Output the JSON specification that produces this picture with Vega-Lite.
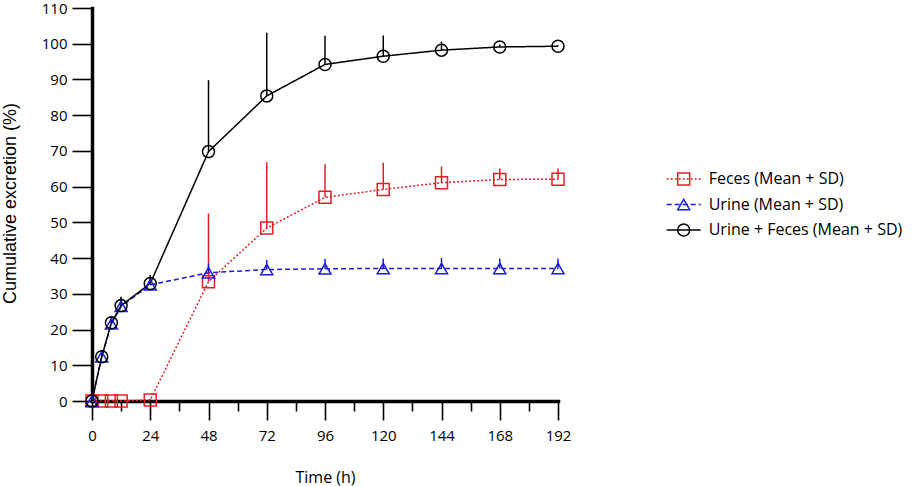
{
  "$schema": "https://vega.github.io/schema/vega-lite/v6.json",
  "width": 466,
  "height": 393,
  "autosize": {"type": "none"},
  "padding": {"left": 92, "top": 8, "right": 355, "bottom": 85},
  "background": "white",
  "config": {
    "view": {"stroke": null},
    "font": "Open Sans",
    "axis": {
      "grid": false,
      "domainColor": "black",
      "domainWidth": 3.5,
      "domainCap": "square",
      "tickColor": "black",
      "tickWidth": 1.6,
      "labelColor": "black",
      "labelFont": "Open Sans",
      "labelFontSize": 15,
      "titleColor": "black",
      "titleFontWeight": "normal"
    }
  },
  "data": {
    "values": [
      {"series": "Feces (Mean + SD)", "time": 0, "mean": 0, "upper": 0},
      {"series": "Feces (Mean + SD)", "time": 4, "mean": 0, "upper": 0},
      {"series": "Feces (Mean + SD)", "time": 8, "mean": 0, "upper": 0},
      {"series": "Feces (Mean + SD)", "time": 12, "mean": 0, "upper": 0},
      {"series": "Feces (Mean + SD)", "time": 24, "mean": 0.3, "upper": 0.6},
      {"series": "Feces (Mean + SD)", "time": 48, "mean": 33.4, "upper": 52.5},
      {"series": "Feces (Mean + SD)", "time": 72, "mean": 48.4, "upper": 66.8},
      {"series": "Feces (Mean + SD)", "time": 96, "mean": 57.0, "upper": 66.3},
      {"series": "Feces (Mean + SD)", "time": 120, "mean": 59.2, "upper": 66.7},
      {"series": "Feces (Mean + SD)", "time": 144, "mean": 61.1, "upper": 65.6},
      {"series": "Feces (Mean + SD)", "time": 168, "mean": 62.0, "upper": 65.1},
      {"series": "Feces (Mean + SD)", "time": 192, "mean": 62.1, "upper": 65.1},
      {"series": "Urine (Mean + SD)", "time": 0, "mean": 0, "upper": 0},
      {"series": "Urine (Mean + SD)", "time": 4, "mean": 12.4, "upper": 14.0},
      {"series": "Urine (Mean + SD)", "time": 8, "mean": 21.6, "upper": 23.5},
      {"series": "Urine (Mean + SD)", "time": 12, "mean": 26.5, "upper": 29.0},
      {"series": "Urine (Mean + SD)", "time": 24, "mean": 32.5, "upper": 34.8},
      {"series": "Urine (Mean + SD)", "time": 48, "mean": 35.9, "upper": 38.5},
      {"series": "Urine (Mean + SD)", "time": 72, "mean": 36.8, "upper": 39.5},
      {"series": "Urine (Mean + SD)", "time": 96, "mean": 37.0, "upper": 39.8},
      {"series": "Urine (Mean + SD)", "time": 120, "mean": 37.1, "upper": 39.9},
      {"series": "Urine (Mean + SD)", "time": 144, "mean": 37.1, "upper": 40.0},
      {"series": "Urine (Mean + SD)", "time": 168, "mean": 37.1, "upper": 39.9},
      {"series": "Urine (Mean + SD)", "time": 192, "mean": 37.1, "upper": 39.9},
      {"series": "Urine + Feces (Mean + SD)", "time": 0, "mean": 0, "upper": 0},
      {"series": "Urine + Feces (Mean + SD)", "time": 4, "mean": 12.4, "upper": 14.3},
      {"series": "Urine + Feces (Mean + SD)", "time": 8, "mean": 21.9, "upper": 23.8},
      {"series": "Urine + Feces (Mean + SD)", "time": 12, "mean": 26.7, "upper": 29.2},
      {"series": "Urine + Feces (Mean + SD)", "time": 24, "mean": 32.9, "upper": 35.3},
      {"series": "Urine + Feces (Mean + SD)", "time": 48, "mean": 69.8, "upper": 89.8},
      {"series": "Urine + Feces (Mean + SD)", "time": 72, "mean": 85.4, "upper": 103.1},
      {"series": "Urine + Feces (Mean + SD)", "time": 96, "mean": 94.2, "upper": 102.2},
      {"series": "Urine + Feces (Mean + SD)", "time": 120, "mean": 96.5, "upper": 102.3},
      {"series": "Urine + Feces (Mean + SD)", "time": 144, "mean": 98.2, "upper": 100.6},
      {"series": "Urine + Feces (Mean + SD)", "time": 168, "mean": 99.1, "upper": 99.8},
      {"series": "Urine + Feces (Mean + SD)", "time": 192, "mean": 99.3, "upper": 99.6}
    ]
  },
  "encoding": {
    "x": {
      "field": "time",
      "type": "quantitative",
      "scale": {"domain": [0, 192], "nice": false, "zero": false},
      "axis": {
        "values": [0, 12, 24, 36, 48, 60, 72, 84, 96, 108, 120, 132, 144, 156, 168, 180, 192],
        "labelExpr": "datum.value % 24 === 0 ? datum.label : ''",
        "labelFlush": false,
        "labelOverlap": false,
        "labelPadding": 8,
        "tickSize": {"condition": {"test": "datum.value % 24 === 0", "value": 19}, "value": 10},
        "title": "Time (h)",
        "titleFont": "Open Sans",
        "titleFontSize": 16,
        "titleY": 81,
        "titleBaseline": "alphabetic"
      }
    },
    "y": {
      "field": "mean",
      "type": "quantitative",
      "scale": {"domain": [0, 110], "nice": false},
      "axis": {
        "values": [0, 10, 20, 30, 40, 50, 60, 70, 80, 90, 100, 110],
        "tickSize": 20,
        "labelPadding": 5,
        "title": "Cumulative excretion (%)",
        "titleFont": "Liberation Sans",
        "titleFontSize": 18,
        "titleAngle": -90,
        "titleX": -82,
        "titleY": 195,
        "titleAlign": "center",
        "titleBaseline": "middle"
      }
    }
  },
  "layer": [
    {
      "mark": {"type": "line", "strokeWidth": 1.5},
      "encoding": {
        "color": {
          "field": "series",
          "type": "nominal",
          "scale": {
            "domain": ["Feces (Mean + SD)", "Urine (Mean + SD)", "Urine + Feces (Mean + SD)"],
            "range": ["#e31e24", "#1c1cd2", "#000000"]
          },
          "legend": {
            "orient": "none", "legendX": 573.7, "legendY": 160, "title": null, "padding": 0,
            "symbolType": "stroke", "symbolSize": 1156, "symbolStrokeWidth": 1.5,
            "labelFont": "Open Sans", "labelFontSize": 16, "labelColor": "black", "labelOffset": 7,
            "labelLimit": 300, "clipHeight": 22, "rowPadding": 3.5
          }
        },
        "strokeDash": {
          "field": "series",
          "type": "nominal",
          "scale": {
            "domain": ["Feces (Mean + SD)", "Urine (Mean + SD)", "Urine + Feces (Mean + SD)"],
            "range": [[2, 2], [5, 3], [1, 0]]
          },
          "legend": {
            "orient": "none", "legendX": 573.7, "legendY": 160, "title": null, "padding": 0,
            "symbolType": "stroke", "symbolSize": 1156, "symbolStrokeWidth": 1.5,
            "labelFont": "Open Sans", "labelFontSize": 16, "labelColor": "black", "labelOffset": 7,
            "labelLimit": 300, "clipHeight": 22, "rowPadding": 3.5
          }
        }
      }
    },
    {
      "mark": {"type": "rule", "strokeWidth": 1.5},
      "encoding": {
        "y2": {"field": "upper"},
        "color": {
          "field": "series",
          "type": "nominal",
          "scale": {
            "domain": ["Feces (Mean + SD)", "Urine (Mean + SD)", "Urine + Feces (Mean + SD)"],
            "range": ["#e31e24", "#1c1cd2", "#000000"]
          },
          "legend": null
        }
      }
    },
    {
      "mark": {"type": "point", "filled": false, "size": 144, "strokeWidth": 1.5, "opacity": 1},
      "encoding": {
        "color": {
          "field": "series",
          "type": "nominal",
          "scale": {
            "domain": ["Feces (Mean + SD)", "Urine (Mean + SD)", "Urine + Feces (Mean + SD)"],
            "range": ["#e31e24", "#1c1cd2", "#000000"]
          },
          "legend": {
            "orient": "none", "legendX": 573.7, "legendY": 160, "title": null, "padding": 0,
            "symbolSize": 144, "symbolStrokeWidth": 1.5, "symbolOffset": 10, "symbolFillColor": "white",
            "labelFont": "Open Sans", "labelFontSize": 16, "labelExpr": "''",
            "clipHeight": 22, "rowPadding": 3.5
          }
        },
        "shape": {
          "field": "series",
          "type": "nominal",
          "scale": {
            "domain": ["Feces (Mean + SD)", "Urine (Mean + SD)", "Urine + Feces (Mean + SD)"],
            "range": ["square", "triangle-up", "circle"]
          },
          "legend": {
            "orient": "none", "legendX": 573.7, "legendY": 160, "title": null, "padding": 0,
            "symbolSize": 144, "symbolStrokeWidth": 1.5, "symbolOffset": 10, "symbolFillColor": "white",
            "labelFont": "Open Sans", "labelFontSize": 16, "labelExpr": "''",
            "clipHeight": 22, "rowPadding": 3.5
          }
        }
      }
    }
  ],
  "resolve": {"scale": {"color": "independent", "strokeDash": "independent", "shape": "independent"}}
}
